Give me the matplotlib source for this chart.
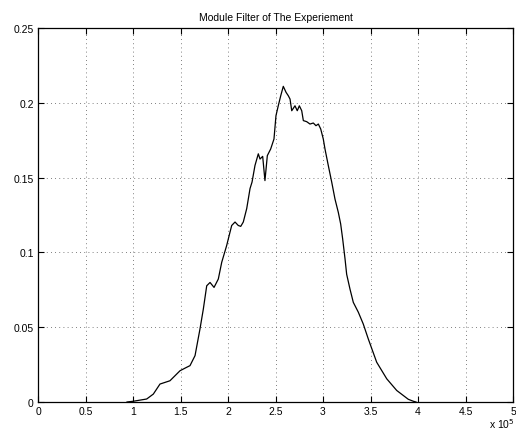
import matplotlib
matplotlib.use("Agg")
import matplotlib.pyplot as plt

plt.rcParams['font.family'] = ['Liberation Sans', 'DejaVu Sans']

freq = [0.937, 1.003, 1.144, 1.214, 1.284, 1.389, 1.495, 1.565, 1.600, 1.653,
        1.705, 1.740, 1.776, 1.811, 1.853, 1.898, 1.934, 1.986, 2.021, 2.039,
        2.074, 2.108, 2.134, 2.161, 2.197, 2.232, 2.253, 2.284, 2.319, 2.337,
        2.365, 2.389, 2.414, 2.449, 2.484, 2.505, 2.529, 2.555, 2.582, 2.611,
        2.635, 2.653, 2.671, 2.705, 2.729, 2.751, 2.776, 2.793, 2.828, 2.863,
        2.898, 2.926, 2.951, 2.976, 3.003, 3.021, 3.056, 3.092, 3.126, 3.161,
        3.186, 3.207, 3.232, 3.249, 3.284, 3.319, 3.372, 3.424, 3.477, 3.565,
        3.671, 3.776, 3.898, 3.951, 3.979]
module = [0.0, 0.0005, 0.002, 0.0053, 0.012, 0.0142, 0.0209, 0.0232, 0.0243, 0.031,
          0.0488, 0.062, 0.0777, 0.0799, 0.0766, 0.0822, 0.0934, 0.1046, 0.1135, 0.118,
          0.1203, 0.118, 0.1174, 0.1203, 0.1293, 0.1427, 0.147, 0.1581, 0.1659, 0.1624,
          0.1642, 0.148, 0.1647, 0.1691, 0.1758, 0.1914, 0.198, 0.2047, 0.2110, 0.207,
          0.2047, 0.2025, 0.1947, 0.198, 0.1947, 0.198, 0.1947, 0.1881, 0.1874, 0.1858,
          0.1865, 0.1847, 0.1858, 0.1825, 0.1758, 0.1691, 0.158, 0.1469, 0.1357, 0.1268,
          0.119, 0.109, 0.0956, 0.0854, 0.0755, 0.0666, 0.060, 0.0521, 0.0421, 0.0266,
          0.0155, 0.0077, 0.0018, 0.0005, 0.0]

xticks = [0, 0.5, 1, 1.5, 2, 2.5, 3, 3.5, 4, 4.5, 5]
xticklabels = ['0', '0.5', '1', '1.5', '2', '2.5', '3', '3.5', '4', '4.5', '5']
yticks = [0, 0.05, 0.1, 0.15, 0.2, 0.25]
yticklabels = ['0', '0.05', '0.1', '0.15', '0.2', '0.25']

fig = plt.figure(figsize=(5.16, 4.35), dpi=100)
ax = fig.add_axes([38/516, 32/435, 475/516, 374/435])
ax.plot([f * 1e5 for f in freq], module, color='black', linewidth=0.9)
ax.set_xlim(0, 5e5)
ax.set_ylim(0, 0.25)
ax.set_xticks([t * 1e5 for t in xticks])
ax.set_xticklabels(xticklabels)
ax.set_yticks(yticks)
ax.set_yticklabels(yticklabels)
ax.tick_params(direction='in', top=True, right=True, length=4, width=0.8,
               labelsize=7.5, pad=3)
ax.grid(True, linestyle=(0, (1, 4)), color='#555555', linewidth=0.6)
for s in ax.spines.values():
    s.set_linewidth(0.9)
ax.set_title('Module Filter of The Experiement', fontsize=7.5, pad=6)
fig.text(502/516, 4/435, r'x 10$^5$', fontsize=7.5, ha='center', va='bottom')
fig.savefig('out.png', dpi=100)
